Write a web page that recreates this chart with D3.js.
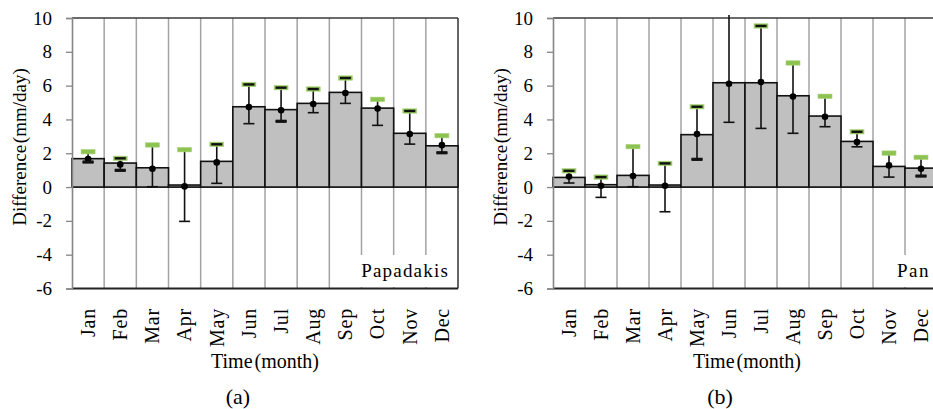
<!DOCTYPE html>
<html><head><meta charset="utf-8">
<script src="https://cdn.jsdelivr.net/npm/d3@7"></script>
<style>body{margin:0;background:#fff}svg{display:block}svg text{font-family:"Liberation Serif","Times New Roman",Tinos,serif !important;fill:#000}</style>
</head><body><svg id="c" width="933" height="409" font-family="Liberation Serif"></svg>
<script>
const months = ["Jan","Feb","Mar","Apr","May","Jun","Jul","Aug","Sep","Oct","Nov","Dec"];
const yTicks = [-6,-4,-2,0,2,4,6,8,10];

// Panel (a) Papadakis
const papBar   = [1.68,1.42,1.14,0.12,1.52,4.75,4.58,4.95,5.60,4.67,3.18,2.44];
const papMean  = [1.65,1.34,1.08,0.04,1.46,4.73,4.54,4.91,5.56,4.64,3.14,2.48];
const papLow   = [1.48,0.99,0.02,-2.03,0.22,3.75,3.89,4.40,4.95,3.65,2.54,2.03];
const papHigh  = [2.05,1.70,2.47,2.19,2.53,6.07,5.88,5.80,6.45,5.15,4.50,3.00];
const papGreen = [2.09,1.70,2.49,2.21,2.53,6.07,5.88,5.80,6.45,5.19,4.50,3.04];
const papBlackHi = [null,1.70,null,null,2.53,6.07,5.88,5.80,6.45,null,4.50,null];
const papBlackLo = [1.48,0.99,null,null,null,null,3.89,null,null,null,null,2.03];

// Panel (b) Pan
const panBar   = [0.57,0.14,0.69,0.12,3.10,6.17,6.17,5.40,4.20,2.70,1.22,1.12];
const panMean  = [0.62,0.08,0.65,0.08,3.14,6.11,6.21,5.36,4.16,2.66,1.28,1.08];
const panLow   = [0.24,-0.61,0.02,-1.46,1.64,3.83,3.47,3.18,3.57,2.38,0.59,0.65];
const panHigh  = [0.96,0.59,2.37,1.40,4.75,10.18,9.53,7.32,5.35,3.27,1.99,1.74];
const panGreen = [0.96,0.59,2.39,1.40,4.75,null,9.53,7.34,5.37,3.27,2.01,1.76];
const panBlackHi = [0.96,0.59,null,1.40,4.75,null,9.53,null,null,3.27,null,null];
const panBlackLo = [null,null,null,null,1.64,null,null,null,null,null,null,0.65];

const panels = [
  {name:"Papadakis", tag:"(a)", x0:72, x1:458, bar:papBar, mean:papMean, low:papLow, high:papHigh, green:papGreen, bhi:papBlackHi, blo:papBlackLo,
   ytitleX:20, tagX:238, titleX:265, box:[357,255,100,32], labelX:449, ls:1.2},
  {name:"Pan", tag:"(b)", x0:553, x1:937, bar:panBar, mean:panMean, low:panLow, high:panHigh, green:panGreen, bhi:panBlackHi, blo:panBlackLo,
   ytitleX:501, tagX:720, titleX:747, box:[892,255,41,32], labelX:930, ls:1.5}
];

const FONT = '"Liberation Serif","Times New Roman",Tinos,serif';
const svg = d3.select("#c");
const y = d3.scaleLinear().domain([-6,10]).range([288.5,18]);

panels.forEach(p => {
  const g = svg.append("g");
  const x = d3.scaleBand().domain(months).range([p.x0,p.x1]).padding(0);
  const bw = x.bandwidth();
  const cx = m => x(m) + bw/2;

  g.selectAll(".grid").data(months.slice(1)).join("line")
    .attr("x1", m => x(m)).attr("x2", m => x(m))
    .attr("y1", y(10)).attr("y2", y(-6))
    .attr("stroke","#a3a3a3").attr("stroke-width",1.5);
  g.append("line").attr("x1",p.x1).attr("x2",p.x1).attr("y1",y(10)).attr("y2",y(-6))
    .attr("stroke","#333").attr("stroke-width",1.5);

  g.append("rect").attr("x",p.box[0]).attr("y",p.box[1]).attr("width",p.box[2]).attr("height",p.box[3]).attr("fill","#fff");

  g.append("line").attr("x1",p.x0).attr("x2",p.x1).attr("y1",y(0)).attr("y2",y(0))
    .attr("stroke","#555").attr("stroke-width",1.5);

  g.selectAll(".bar").data(months).join("rect")
    .attr("x", m => x(m)).attr("width", bw)
    .attr("y", (m,i) => y(Math.max(0,p.bar[i])))
    .attr("height", (m,i) => Math.abs(y(p.bar[i]) - y(0)))
    .attr("fill","#c0c0c0").attr("stroke","#111").attr("stroke-width",1.6);

  g.append("line").attr("x1",p.x0).attr("x2",p.x1).attr("y1",y(10)).attr("y2",y(10))
    .attr("stroke","#3a3a3a").attr("stroke-width",1.6);
  g.append("line").attr("x1",p.x0).attr("x2",p.x1).attr("y1",y(-6)).attr("y2",y(-6))
    .attr("stroke","#222").attr("stroke-width",2);

  const ax = g.append("g").attr("transform",`translate(${p.x0},0)`)
    .call(d3.axisLeft(y).tickValues(yTicks).tickSize(6).tickPadding(14).tickFormat(d => String(d)));
  ax.attr("font-family", FONT).attr("font-size", 19);
  ax.select(".domain").attr("stroke","#868686").attr("stroke-width",1.6);
  ax.selectAll(".tick line").attr("stroke","#868686").attr("stroke-width",1.3);
  ax.selectAll(".tick text").attr("fill","#000");

  g.selectAll(".wh").data(months).join("line")
    .attr("x1", cx).attr("x2", cx)
    .attr("y1", (m,i) => y(p.low[i])).attr("y2", (m,i) => y(p.high[i]))
    .attr("stroke","#111").attr("stroke-width",1.6);
  g.selectAll(".cap").data(months).join("line")
    .attr("x1", m => cx(m)-5.5).attr("x2", m => cx(m)+5.5)
    .attr("y1", (m,i) => y(p.low[i])).attr("y2", (m,i) => y(p.low[i]))
    .attr("stroke","#111").attr("stroke-width",1.6);

  g.selectAll(".dot").data(months).join("circle")
    .attr("cx", cx).attr("cy", (m,i) => y(p.mean[i])).attr("r",3.3).attr("fill","#000");

  const gi = months.map((m,i)=>i).filter(i => p.green[i] !== null);
  g.selectAll(".gm").data(gi).join("rect")
    .attr("x", i => cx(months[i]) - 7).attr("width",14)
    .attr("y", i => y(p.green[i]) - 2.2).attr("height",4.4)
    .attr("fill","#8dc350").attr("stroke","#a9d47a").attr("stroke-width",0.6);

  const bh = months.map((m,i)=>i).filter(i => p.bhi[i] !== null);
  g.selectAll(".bh").data(bh).join("rect")
    .attr("x", i => cx(months[i]) - 5.5).attr("width",11)
    .attr("y", i => y(p.bhi[i]) - 1.2).attr("height",2.4).attr("fill","#111");
  const bl = months.map((m,i)=>i).filter(i => p.blo[i] !== null);
  g.selectAll(".bl").data(bl).join("rect")
    .attr("x", i => cx(months[i]) - 5.5).attr("width",11)
    .attr("y", i => y(p.blo[i]) - 1.6).attr("height",3.2).attr("fill","#111");

  const tg = g.append("g").attr("font-family", FONT);
  tg.selectAll(".ml").data(months).join("text")
    .attr("transform", m => `translate(${cx(m)},308) rotate(-90)`)
    .attr("text-anchor","end").attr("dy","0.34em")
    .attr("font-size",20).attr("letter-spacing",0.8).text(m => m);

  tg.append("text").attr("x",p.labelX).attr("y",277).attr("text-anchor","end")
    .attr("font-size",19).attr("letter-spacing",p.ls).text(p.name);

  tg.append("text").attr("transform",`translate(${p.ytitleX},147) rotate(-90)`)
    .attr("text-anchor","middle").attr("dy","0.34em").attr("font-size",19).attr("word-spacing",-3)
    .text("Difference (mm/day)");
  tg.append("text").attr("x",p.titleX).attr("y",368).attr("text-anchor","middle")
    .attr("font-size",20).attr("word-spacing",-3).text("Time (month)");
  tg.append("text").attr("x",p.tagX).attr("y",404).attr("text-anchor","middle")
    .attr("font-size",22).text(p.tag);
});
</script></body></html>
